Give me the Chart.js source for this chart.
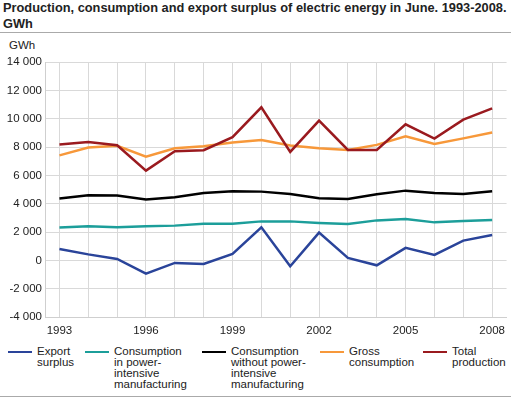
<!DOCTYPE html>
<html>
<head>
<meta charset="utf-8">
<script src="https://cdn.jsdelivr.net/npm/chart.js@4"></script>
<style>
  body { margin: 0; width: 512px; height: 398px; background: #fff; font-family: "Liberation Sans", Arial, sans-serif; color: #222; position: relative; overflow: hidden; }
  #title { position: absolute; left: 3px; top: 0; width: 509px; font-weight: bold; font-size: 12.8px; line-height: 16px; color: #222; white-space: nowrap; }
  #titleLine { position: absolute; left: 0; top: 32px; width: 511px; height: 1px; background: #aaa; }
  #unit { position: absolute; left: 9px; top: 39px; font-size: 11.5px; }
  #chartWrap { position: absolute; left: 0; top: 34px; width: 512px; height: 306px; }
  .legendItem { position: absolute; top: 346px; font-size: 11.5px; line-height: 11px; }
  .swatch { position: absolute; top: 351px; width: 24px; height: 2px; }
  #bottomLine { position: absolute; left: 0; top: 396px; width: 511px; height: 1px; background: #aaa; }
</style>
</head>
<body>
<div id="title">Production, consumption and export surplus of electric energy in June. 1993-2008.<br>GWh</div>
<div id="titleLine"></div>
<div id="unit">GWh</div>
<div id="chartWrap"><canvas id="myChart"></canvas></div>
<div id="legend"></div>
<div id="bottomLine"></div>
<script>
const years = ["1993", "1994", "1995", "1996", "1997", "1998", "1999", "2000",
  "2001", "2002", "2003", "2004", "2005", "2006", "2007", "2008"];
const exportSurplus = [800, 420, 100, -940, -180, -250, 450, 2330, -420, 1960, 170, -350, 880, 380, 1390, 1790];
const powerIntensive = [2310, 2400, 2330, 2400, 2450, 2590, 2590, 2750, 2750, 2640, 2570, 2820, 2920, 2680, 2780, 2850];
const withoutPowerIntensive = [4360, 4590, 4570, 4290, 4450, 4760, 4870, 4850, 4690, 4380, 4330, 4660, 4920, 4760, 4690, 4870];
const grossConsumption = [7410, 7960, 8080, 7320, 7910, 8050, 8310, 8500, 8100, 7910, 7790, 8150, 8750, 8220, 8610, 9020];
const totalProduction = [8170, 8360, 8120, 6330, 7700, 7770, 8690, 10800, 7650, 9860, 7790, 7790, 9600, 8590, 9930, 10730];

const seriesNames = ["Export\nsurplus", "Consumption\nin power-\nintensive\nmanufacturing",
  "Consumption\nwithout power-\nintensive\nmanufacturing", "Gross\nconsumption", "Total\nproduction"];
const seriesColors = ["#2a449a", "#1c9e9a", "#000000", "#f7983a", "#9a1a1f"];
const seriesData = [exportSurplus, powerIntensive, withoutPowerIntensive, grossConsumption, totalProduction];

// legend positions (left of swatch)
const legendX = [8, 85, 202, 320, 423];
const legend = document.getElementById("legend");
seriesNames.forEach((name, i) => {
  const sw = document.createElement("div");
  sw.className = "swatch";
  sw.style.left = legendX[i] + "px";
  sw.style.background = seriesColors[i];
  const txt = document.createElement("div");
  txt.className = "legendItem";
  txt.style.left = (legendX[i] + 29) + "px";
  txt.innerHTML = name.replace(/\n/g, "<br>");
  legend.append(sw, txt);
});

function fmt(v) {
  const s = String(Math.abs(v)).replace(/\B(?=(\d{3})+(?!\d))/g, " ");
  return (v < 0 ? "-" : "") + s;
}

const ctx = document.getElementById("myChart").getContext("2d");
new Chart(ctx, {
  type: "line",
  data: {
    labels: years,
    datasets: seriesData.map((d, i) => ({
      label: seriesNames[i],
      data: d,
      borderColor: seriesColors[i],
      backgroundColor: seriesColors[i],
      borderWidth: 2.5,
      pointRadius: 0,
      tension: 0,
      fill: false,
      order: 5 - i,
    })),
  },
  options: {
    responsive: true,
    maintainAspectRatio: false,
    animation: false,
    layout: { padding: { top: 28, right: 2, left: 0, bottom: 0 } },
    plugins: { legend: { display: false }, tooltip: { enabled: false } },
    scales: {
      x: {
        offset: true,
        grid: { offset: false, color: "#d9d9d9", drawTicks: false },
        border: { color: "#cfcfcf" },
        ticks: {
          autoSkip: false,
          maxRotation: 0,
          padding: 7,
          color: "#222",
          font: { family: "Liberation Sans", size: 11.5 },
          callback: function (val, index) {
            return index % 3 === 0 ? years[index] : "";
          },
        },
        afterFit: (scale) => { scale.height = 23; },
      },
      y: {
        min: -4000,
        max: 14000,
        grid: { color: "#d9d9d9", drawTicks: false },
        border: { color: "#cfcfcf" },
        ticks: {
          stepSize: 2000,
          padding: 3,
          color: "#222",
          font: { family: "Liberation Sans", size: 11.5 },
          callback: (v) => fmt(v),
        },
        afterFit: (scale) => { scale.width = 45; },
      },
    },
  },
});
</script>
</body>
</html>
